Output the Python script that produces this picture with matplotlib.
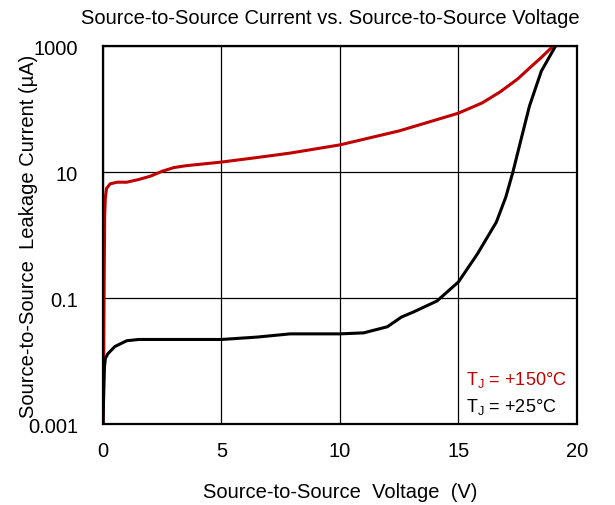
import numpy as np
import matplotlib
matplotlib.use('Agg')
import matplotlib.pyplot as plt

plt.rcParams['font.family'] = ['Liberation Sans', 'DejaVu Sans']
plt.rcParams['mathtext.fontset'] = 'custom'
plt.rcParams['mathtext.rm'] = 'Liberation Sans'
plt.rcParams['mathtext.it'] = 'Liberation Sans'

# ---- data ----
# Tj = +150C (red)
v_hot = [0.0, 0.03, 0.05, 0.07, 0.1, 0.15, 0.3, 0.6, 1.0, 1.5, 2.0, 2.5, 3.0, 3.5,
         5.0, 6.5, 7.9, 10.0, 12.5, 15.0, 16.0, 16.75, 17.5, 18.0, 18.5, 19.0]
i_hot = [0.001, 0.01, 0.2, 2.0, 4.0, 5.5, 6.5, 6.9, 6.9, 7.6, 8.6, 10.3, 11.8, 12.6,
         14.4, 17.0, 20.0, 27.0, 45.0, 86.0, 125.0, 186.0, 300.0, 447.0, 660.0, 1000.0]

# Tj = +25C (black)
v_cold = [0.0, 0.03, 0.06, 0.1, 0.2, 0.5, 1.0, 1.5, 3.0, 5.0, 6.5, 7.9, 9.0, 10.0,
          11.0, 12.0, 12.6, 13.1, 14.1, 15.0, 15.8, 16.6, 17.0, 17.3, 17.7, 18.0,
          18.5, 19.1]
i_cold = [0.001, 0.003, 0.008, 0.011, 0.013, 0.017, 0.021, 0.022, 0.022, 0.022,
          0.024, 0.027, 0.027, 0.027, 0.028, 0.035, 0.05, 0.06, 0.09, 0.18, 0.5,
          1.6, 4.0, 10.0, 40.0, 112.0, 400.0, 1000.0]

x_ticks = [0, 5, 10, 15, 20]
y_ticks = [0.001, 0.1, 10, 1000]
y_tick_labels = ['0.001', '0.1', '10', '1000']

fig = plt.figure(figsize=(6.15, 5.06), dpi=100)
ax = fig.add_axes([0.1675, 0.160, 0.7705, 0.747])

ax.plot(v_hot, i_hot, color='#c00000', lw=2.2, solid_capstyle='round')
ax.plot(v_cold, i_cold, color='black', lw=2.2, solid_capstyle='round')

ax.set_yscale('log')
ax.set_xlim(0, 20)
ax.set_ylim(0.001, 1000)
ax.set_xticks(x_ticks)
ax.set_yticks(y_ticks)
ax.set_yticklabels(y_tick_labels)
ax.yaxis.set_minor_locator(matplotlib.ticker.NullLocator())
ax.tick_params(axis='x', length=0, labelsize=14.5, pad=12)
ax.tick_params(axis='y', length=0, labelsize=14.5, pad=18)

ax.grid(True, color='black', lw=0.9)
ax.set_axisbelow(True)
for s in ax.spines.values():
    s.set_linewidth(1.6)

ax.set_xlabel('Source-to-Source  Voltage  (V)', fontsize=14.5, labelpad=16)
ax.set_ylabel('Source-to-Source  Leakage Current (µA)', fontsize=14.5, labelpad=-7)
fig.text(0.537, 0.964, 'Source-to-Source Current vs. Source-to-Source Voltage',
         ha='center', va='center', fontsize=14.5)

ax.text(0.765, 0.119, r'T$_\mathrm{J}$ = +150°C', transform=ax.transAxes,
        color='#c00000', fontsize=13, va='center')
ax.text(0.765, 0.048, r'T$_\mathrm{J}$ = +25°C', transform=ax.transAxes,
        color='black', fontsize=13, va='center')

fig.savefig('out.png', dpi=100)
